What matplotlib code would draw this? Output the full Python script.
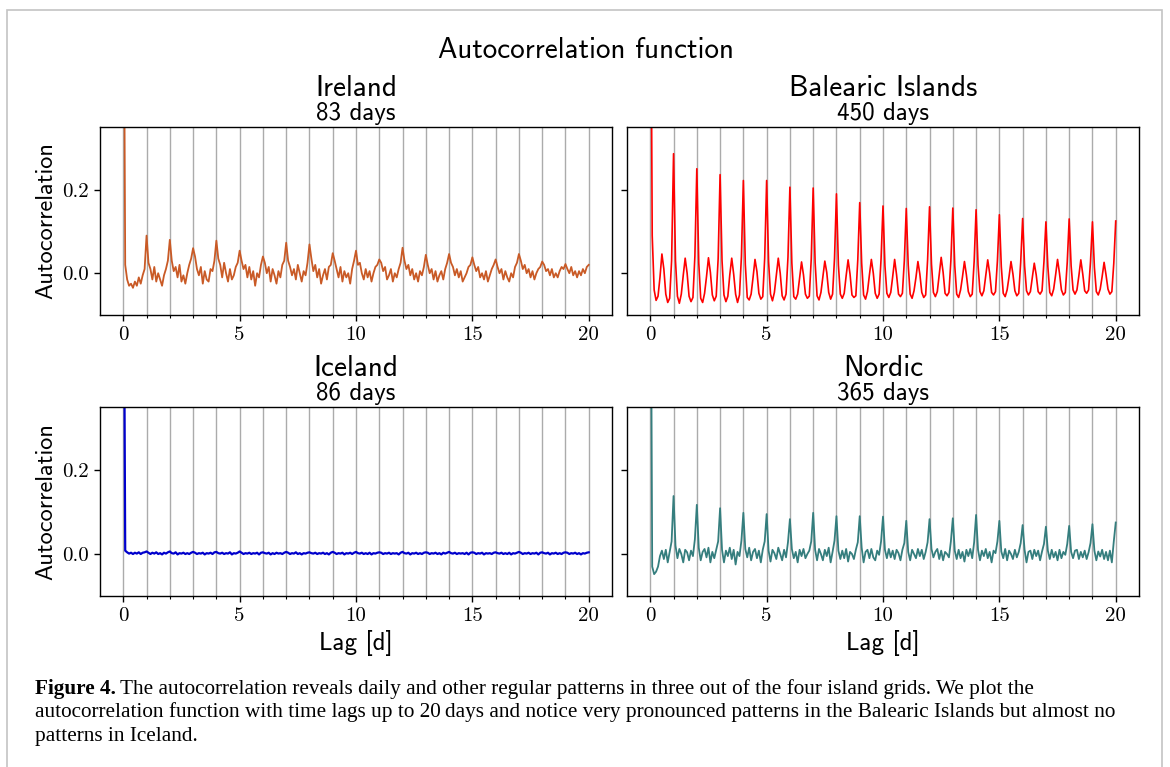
import numpy as np
import matplotlib
matplotlib.use('Agg')
import matplotlib.pyplot as plt
from matplotlib.patches import Rectangle

# lag axis: 2-hour steps from 0 to 20 days
samples_per_day = 12
lag_days = np.arange(20 * samples_per_day + 1) / samples_per_day

# autocorrelation values (one row per day, 2 h steps)
ireland_acf = [
    1.000, 0.020, -0.015, -0.030, -0.025, -0.035, -0.020, -0.030, -0.010, -0.025, -0.005, 0.010,
    0.090, 0.025, 0.010, -0.015, 0.015, -0.020, 0.000, -0.015, -0.030, -0.005, 0.010, 0.030,
    0.080, 0.030, 0.005, 0.015, -0.010, 0.020, -0.020, -0.005, -0.025, 0.000, 0.020, 0.035,
    0.060, 0.040, 0.010, -0.005, 0.015, -0.025, 0.005, -0.015, -0.020, 0.010, 0.005, 0.030,
    0.078, 0.035, 0.020, -0.010, 0.025, 0.000, -0.020, 0.010, -0.015, -0.005, 0.015, 0.025,
    0.054, 0.030, 0.010, 0.020, -0.010, 0.015, -0.015, 0.005, -0.030, 0.000, -0.010, 0.020,
    0.040, 0.025, 0.000, 0.015, -0.020, 0.010, -0.005, -0.025, 0.005, -0.010, 0.020, 0.030,
    0.073, 0.030, 0.015, -0.005, 0.010, -0.015, 0.020, 0.000, -0.020, 0.005, -0.005, 0.025,
    0.069, 0.035, 0.005, 0.020, -0.010, 0.010, -0.025, -0.005, 0.010, -0.015, 0.015, 0.020,
    0.048, 0.030, 0.010, -0.010, 0.015, -0.020, 0.005, -0.010, 0.000, -0.025, 0.010, 0.030,
    0.054, 0.020, 0.025, 0.000, -0.015, 0.010, -0.010, 0.005, -0.020, 0.000, 0.015, 0.020,
    0.033, 0.025, 0.005, 0.015, -0.015, -0.005, 0.010, -0.020, 0.000, -0.010, 0.010, 0.025,
    0.061, 0.030, 0.010, 0.020, -0.005, 0.010, -0.015, 0.000, -0.020, 0.005, -0.005, 0.015,
    0.044, 0.020, 0.000, 0.010, -0.015, 0.005, -0.020, -0.005, 0.005, -0.015, 0.010, 0.025,
    0.046, 0.025, 0.015, -0.005, 0.010, -0.010, 0.005, -0.020, -0.010, 0.000, 0.015, 0.020,
    0.038, 0.020, 0.005, 0.015, -0.010, 0.000, -0.015, 0.005, -0.020, -0.005, 0.010, 0.020,
    0.033, 0.015, 0.000, 0.010, -0.015, 0.005, -0.010, -0.020, 0.000, -0.010, 0.015, 0.025,
    0.046, 0.030, 0.010, 0.020, 0.000, 0.010, -0.010, 0.005, -0.015, 0.000, 0.010, 0.015,
    0.028, 0.020, 0.005, 0.010, -0.005, 0.010, -0.010, 0.000, -0.010, 0.005, 0.015, 0.010,
    0.022, 0.010, 0.000, 0.015, -0.005, 0.005, -0.010, 0.005, -0.005, 0.010, 0.000, 0.015,
    0.020,
]

balearic_acf = [
    1.000, 0.090, -0.040, -0.065, -0.055, -0.010, 0.046, 0.010, -0.050, -0.070, -0.060, 0.030,
    0.286, 0.030, -0.055, -0.072, -0.050, -0.005, 0.036, 0.000, -0.055, -0.068, -0.058, 0.040,
    0.250, 0.025, -0.060, -0.070, -0.048, -0.008, 0.037, 0.002, -0.052, -0.066, -0.055, 0.035,
    0.236, 0.030, -0.052, -0.068, -0.055, -0.004, 0.036, -0.002, -0.050, -0.070, -0.052, 0.040,
    0.222, 0.022, -0.058, -0.064, -0.050, -0.010, 0.033, 0.004, -0.048, -0.062, -0.056, 0.036,
    0.222, 0.028, -0.050, -0.066, -0.046, -0.006, 0.036, 0.000, -0.054, -0.064, -0.050, 0.038,
    0.206, 0.024, -0.056, -0.062, -0.050, -0.012, 0.027, -0.004, -0.050, -0.060, -0.055, 0.034,
    0.204, 0.026, -0.054, -0.064, -0.046, -0.008, 0.029, 0.002, -0.046, -0.062, -0.050, 0.036,
    0.190, 0.020, -0.050, -0.060, -0.048, -0.006, 0.032, -0.002, -0.052, -0.058, -0.054, 0.032,
    0.169, 0.024, -0.052, -0.062, -0.044, -0.004, 0.033, 0.000, -0.048, -0.060, -0.050, 0.034,
    0.161, 0.018, -0.048, -0.058, -0.046, -0.008, 0.033, -0.004, -0.050, -0.056, -0.048, 0.030,
    0.155, 0.020, -0.050, -0.060, -0.042, -0.010, 0.028, -0.002, -0.046, -0.058, -0.052, 0.032,
    0.159, 0.022, -0.046, -0.056, -0.044, -0.002, 0.038, 0.002, -0.048, -0.054, -0.046, 0.030,
    0.156, 0.018, -0.050, -0.058, -0.040, -0.008, 0.028, -0.004, -0.044, -0.056, -0.050, 0.028,
    0.152, 0.020, -0.044, -0.054, -0.042, -0.006, 0.032, 0.000, -0.046, -0.052, -0.044, 0.030,
    0.140, 0.016, -0.048, -0.056, -0.040, -0.008, 0.028, -0.002, -0.042, -0.054, -0.048, 0.026,
    0.131, 0.018, -0.042, -0.052, -0.044, -0.010, 0.024, -0.004, -0.044, -0.050, -0.042, 0.028,
    0.123, 0.016, -0.046, -0.054, -0.038, -0.004, 0.033, 0.000, -0.040, -0.052, -0.046, 0.026,
    0.130, 0.018, -0.040, -0.050, -0.040, -0.006, 0.032, -0.002, -0.042, -0.048, -0.040, 0.028,
    0.123, 0.014, -0.044, -0.052, -0.038, -0.008, 0.026, -0.004, -0.038, -0.050, -0.044, 0.024,
    0.125,
]

iceland_acf = [
    1.000, 0.008, 0.004, 0.001, 0.003, 0.000, 0.003, 0.001, 0.004, 0.000, 0.003, 0.004,
    0.006, 0.003, 0.000, 0.003, 0.001, 0.004, 0.000, 0.002, -0.001, 0.003, 0.001, 0.004,
    0.006, 0.002, 0.001, 0.004, -0.001, 0.002, 0.001, 0.003, 0.000, 0.002, 0.000, 0.003,
    0.005, 0.003, 0.000, 0.002, 0.001, 0.003, -0.001, 0.002, 0.001, 0.003, 0.000, 0.004,
    0.005, 0.002, 0.001, 0.003, 0.000, 0.002, 0.001, 0.004, -0.001, 0.002, 0.001, 0.003,
    0.006, 0.003, 0.000, 0.002, 0.001, 0.003, 0.000, 0.002, 0.001, 0.003, -0.001, 0.003,
    0.004, 0.002, 0.001, 0.003, -0.001, 0.002, 0.000, 0.003, 0.001, 0.002, 0.000, 0.003,
    0.005, 0.003, 0.000, 0.002, 0.001, 0.004, 0.000, 0.002, -0.001, 0.002, 0.001, 0.003,
    0.004, 0.002, 0.001, 0.003, 0.000, 0.002, 0.001, 0.003, 0.000, 0.002, -0.001, 0.003,
    0.005, 0.003, 0.000, 0.002, 0.001, 0.003, -0.001, 0.002, 0.001, 0.003, 0.000, 0.003,
    0.005, 0.002, 0.001, 0.003, 0.000, 0.002, 0.000, 0.003, -0.001, 0.002, 0.001, 0.003,
    0.004, 0.003, 0.000, 0.002, 0.001, 0.003, 0.000, 0.002, 0.001, 0.002, -0.001, 0.003,
    0.005, 0.002, 0.001, 0.003, -0.001, 0.002, 0.001, 0.003, 0.000, 0.002, 0.000, 0.003,
    0.004, 0.003, 0.000, 0.002, 0.001, 0.003, 0.000, 0.002, -0.001, 0.003, 0.001, 0.003,
    0.005, 0.002, 0.001, 0.003, 0.000, 0.002, 0.001, 0.002, 0.000, 0.003, -0.001, 0.003,
    0.004, 0.003, 0.000, 0.002, 0.001, 0.003, -0.001, 0.002, 0.001, 0.002, 0.000, 0.003,
    0.004, 0.002, 0.001, 0.003, 0.000, 0.002, 0.000, 0.003, -0.001, 0.002, 0.001, 0.003,
    0.005, 0.003, 0.000, 0.002, 0.001, 0.003, 0.000, 0.002, 0.001, 0.003, -0.001, 0.003,
    0.004, 0.002, 0.001, 0.003, -0.001, 0.002, 0.001, 0.003, 0.000, 0.002, 0.000, 0.003,
    0.004, 0.003, 0.000, 0.002, 0.001, 0.003, 0.000, 0.002, -0.001, 0.002, 0.001, 0.003,
    0.004,
]

nordic_acf = [
    1.000, -0.030, -0.048, -0.042, -0.030, -0.005, 0.008, -0.012, 0.010, -0.020, 0.005, 0.030,
    0.138, 0.020, -0.010, 0.012, 0.000, -0.020, 0.010, 0.004, -0.015, 0.008, -0.005, 0.035,
    0.117, 0.015, -0.015, 0.005, 0.012, -0.008, 0.015, -0.020, 0.005, -0.010, 0.010, 0.030,
    0.109, 0.010, -0.020, 0.008, -0.005, 0.015, -0.012, 0.010, -0.025, 0.005, -0.005, 0.032,
    0.098, 0.012, -0.008, 0.015, -0.015, 0.005, 0.012, -0.010, 0.008, -0.020, 0.010, 0.030,
    0.095, 0.008, -0.018, 0.010, 0.002, -0.012, 0.015, 0.000, -0.015, 0.010, -0.008, 0.028,
    0.083, 0.012, -0.010, 0.005, -0.020, 0.010, -0.005, 0.012, -0.010, 0.000, 0.008, 0.030,
    0.098, 0.010, -0.015, 0.012, 0.000, -0.015, 0.010, -0.005, 0.015, -0.020, 0.005, 0.032,
    0.090, 0.008, -0.012, 0.008, -0.010, 0.012, -0.018, 0.005, 0.000, -0.012, 0.010, 0.028,
    0.090, 0.015, -0.020, 0.005, 0.010, -0.010, 0.012, -0.008, -0.015, 0.008, -0.002, 0.030,
    0.089, 0.010, -0.010, 0.012, -0.008, 0.008, -0.012, 0.010, 0.002, -0.015, 0.010, 0.026,
    0.079, 0.005, -0.015, 0.010, 0.000, -0.010, 0.012, -0.005, 0.010, -0.012, 0.005, 0.028,
    0.083, 0.012, -0.008, 0.005, 0.012, -0.012, 0.008, -0.015, 0.005, 0.000, -0.008, 0.030,
    0.085, 0.008, -0.012, 0.010, -0.010, 0.005, -0.018, 0.010, -0.005, 0.012, -0.010, 0.028,
    0.093, 0.010, -0.015, 0.008, -0.005, 0.012, -0.010, 0.005, -0.020, 0.008, 0.002, 0.030,
    0.079, 0.006, -0.010, 0.012, -0.015, 0.008, 0.000, -0.012, 0.010, -0.008, 0.005, 0.026,
    0.069, 0.010, -0.020, 0.005, 0.008, -0.012, 0.010, -0.005, 0.008, -0.015, 0.006, 0.024,
    0.065, 0.008, -0.012, 0.010, -0.008, 0.005, -0.015, 0.010, -0.010, 0.005, -0.002, 0.024,
    0.067, 0.005, -0.010, 0.008, 0.010, -0.012, 0.005, -0.008, 0.008, -0.012, 0.004, 0.026,
    0.071, 0.008, -0.015, 0.006, -0.006, 0.010, -0.012, 0.005, -0.015, 0.008, -0.020, 0.030,
    0.075,
]

region_names = ['Ireland', 'Balearic Islands', 'Iceland', 'Nordic']
region_days = ['83 days', '450 days', '86 days', '365 days']
region_colors = ['#c95a26', '#ff0000', '#0000cc', '#357e7e']
region_widths = [1.3, 1.2, 1.6, 1.3]
region_acf = [ireland_acf, balearic_acf, iceland_acf, nordic_acf]

xtick_values = [0, 5, 10, 15, 20]
xtick_labels = ['0', '5', '10', '15', '20']
ytick_values = [0.0, 0.2]
ytick_labels = ['0.0', '0.2']

caption_lines = [
    'The autocorrelation reveals daily and other regular patterns in three out of the four island grids. We plot the',
    'autocorrelation function with time lags up to 20\u2009days and notice very pronounced patterns in the Balearic Islands but almost no',
    'patterns in Iceland.',
]

W, H = 1170, 767
fig = plt.figure(figsize=(W / 100, H / 100), dpi=100)

# light frame around the whole figure
fig.add_artist(Rectangle((7 / W, -0.05), 1155 / W, 1.05 - 9.5 / H, transform=fig.transFigure,
                         fill=False, edgecolor='#c4c4c4', lw=1.2))

sans = 'cmss10'
serif_num = 'cmr10'

fig.text(586 / W, 1 - 58 / H, 'Autocorrelation function', family=sans, fontsize=21,
         ha='center', va='baseline')

# axes boxes in pixels: left, top, right, bottom
boxes = [(100, 127, 612, 315), (627, 127, 1139, 315),
         (100, 407, 612, 596), (627, 407, 1139, 596)]

for i, (l, t, r, b) in enumerate(boxes):
    ax = fig.add_axes([l / W, 1 - b / H, (r - l) / W, (b - t) / H])
    ax.plot(lag_days, region_acf[i], color=region_colors[i], lw=region_widths[i])
    ax.set_xlim(-1, 21)
    ax.set_ylim(-0.1, 0.35)
    ax.set_xticks(xtick_values, xtick_labels, family=serif_num, fontsize=15)
    ax.set_xticks(range(21), minor=True)
    if i % 2 == 0:
        ax.set_yticks(ytick_values, ytick_labels, family=serif_num, fontsize=15)
        fig.text(46 / W, 1 - (t + b) / 2 / H, 'Autocorrelation', family=sans, fontsize=17.5,
                 rotation=90, ha='center', va='center')
    else:
        ax.set_yticks(ytick_values, [])
    ax.grid(True, axis='x', which='both', color='#ababab', lw=1.0)
    ax.set_axisbelow(True)
    ax.tick_params(which='major', length=4, width=1, pad=4)
    ax.tick_params(which='minor', length=2.5, width=0.8)
    for s in ax.spines.values():
        s.set_linewidth(1.0)

    cx = (l + r) / 2 / W
    fig.text(cx, 1 - (t - 31) / H, region_names[i], family=sans, fontsize=21,
             ha='center', va='baseline')
    fig.text(cx, 1 - (t - 7) / H, region_days[i], family=sans, fontsize=18,
             ha='center', va='baseline')
    if i >= 2:
        fig.text(cx, 1 - 650 / H, 'Lag [d]', family=sans, fontsize=18,
                 ha='center', va='baseline')

# caption below the figure
cap_font = 'Liberation Serif'
cap_size = 15.3
label = fig.text(35 / W, 1 - 694 / H, 'Figure 4.', family=cap_font, fontsize=cap_size,
                 weight='bold', ha='left', va='baseline')
fig.canvas.draw()
bb = label.get_window_extent()
fig.text((bb.x1 + 4) / W, 1 - 694 / H, caption_lines[0], family=cap_font,
         fontsize=cap_size, ha='left', va='baseline')
for k, line in enumerate(caption_lines[1:]):
    fig.text(35 / W, 1 - (717.5 + 23.5 * k) / H, line, family=[cap_font, 'DejaVu Serif'],
             fontsize=cap_size, ha='left', va='baseline')

fig.savefig('out.png', dpi=100)
